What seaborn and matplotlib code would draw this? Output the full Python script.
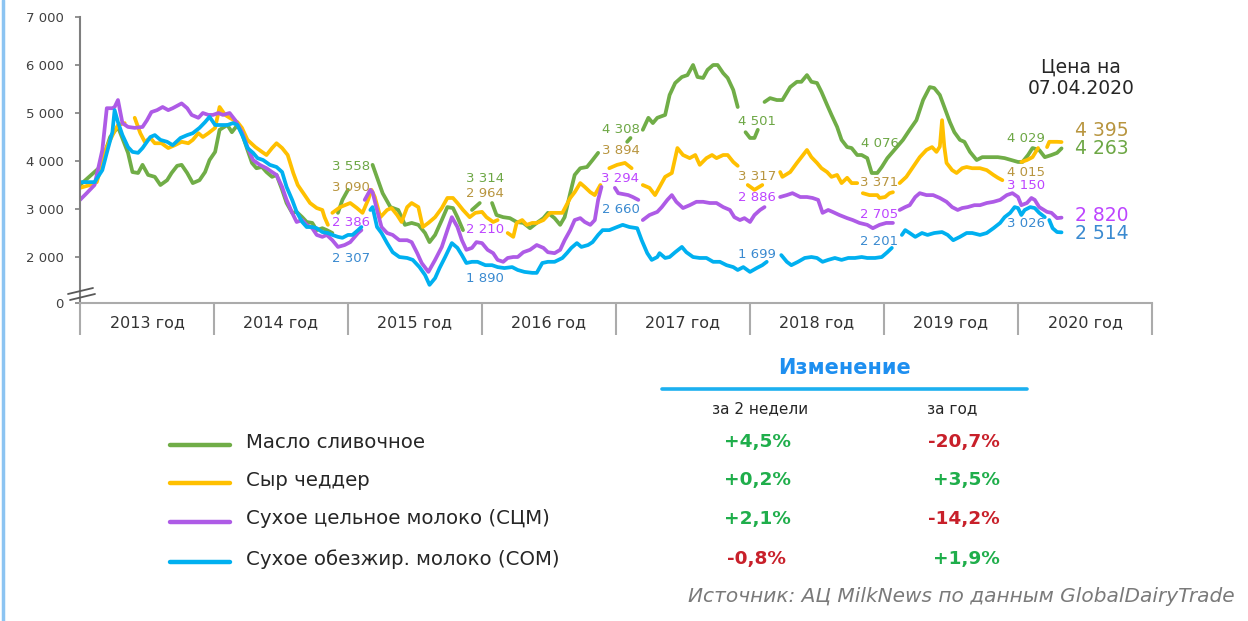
import numpy as np
import pandas as pd
import matplotlib
matplotlib.use("Agg")
import matplotlib.pyplot as plt
from matplotlib.lines import Line2D
import seaborn as sns

# ---------------- data: (months since Jan 2013, USD/t); None = break in the line
butter = [
    (0.0, 3500), (1.8, 3875), (2.7, 4500), (3.4, 4710), (4.3, 4170), (4.7, 3770), (5.2, 3750), (5.6, 3920),
    (6.1, 3710), (6.7, 3670), (7.2, 3500), (7.8, 3600), (8.2, 3750), (8.7, 3900), (9.1, 3920), (9.6, 3750),
    (10.1, 3540), (10.7, 3600), (11.2, 3770), (11.6, 4020), (12.1, 4190), (12.5, 4650), (13.2, 4750), (13.6, 4600),
    (14.1, 4750), (14.5, 4580), (15.0, 4230), (15.4, 3960), (15.8, 3850), (16.3, 3875), (16.7, 3770), (17.2, 3670),
    (17.6, 3710), (18.1, 3400), (18.5, 3125), (19.0, 2920), (19.4, 2940), (19.9, 2830), (20.3, 2730), (20.8, 2710),
    (21.2, 2560), (21.7, 2600), (22.1, 2560), (22.6, 2500),
    None,
    (23.1, 2920), (23.5, 3190), (24.0, 3400),
    None,
    (26.2, 3920), (27.1, 3330), (27.8, 3040), (28.5, 2980), (29.1, 2670), (29.7, 2710), (30.3, 2670), (30.9, 2500),
    (31.3, 2310), (31.8, 2460), (32.4, 2770), (32.9, 3040), (33.4, 3020), (33.8, 2830), (34.3, 2560),
    None,
    (35.1, 2980), (35.8, 3125),
    None,
    (36.9, 3125), (37.3, 2875), (37.9, 2830), (38.5, 2810), (39.1, 2730), (39.7, 2710), (40.3, 2600), (40.9, 2710),
    (41.5, 2810), (41.9, 2920), (42.5, 2810), (43.0, 2670), (43.4, 2830), (43.9, 3330), (44.3, 3710), (44.8, 3850),
    (45.4, 3875), (45.9, 4020), (46.4, 4170),
    None,
    (49.0, 4400), (49.3, 4480),
    None,
    (50.4, 4650), (50.9, 4900), (51.3, 4790), (51.7, 4900), (52.4, 4960), (52.8, 5375), (53.3, 5625), (53.9, 5750),
    (54.4, 5790), (54.9, 6000), (55.3, 5750), (55.8, 5730), (56.2, 5900), (56.7, 6000), (57.1, 6000), (57.6, 5830),
    (58.0, 5730), (58.5, 5480), (58.9, 5125),
    None,
    (59.6, 4600), (60.0, 4480), (60.4, 4480), (60.7, 4650),
    None,
    (61.3, 5230), (61.8, 5310), (62.4, 5270), (62.9, 5270), (63.6, 5540), (64.2, 5650), (64.6, 5650), (65.1, 5790),
    (65.5, 5650), (66.0, 5625), (66.4, 5440), (66.9, 5170), (67.3, 4960), (67.8, 4710), (68.2, 4440), (68.7, 4290),
    (69.1, 4270), (69.6, 4125), (70.0, 4125), (70.5, 4060), (70.9, 3750), (71.4, 3750), (71.8, 3875), (72.3, 4060),
    (73.0, 4250), (73.7, 4440), (74.3, 4650), (74.9, 4850), (75.5, 5270), (76.1, 5540), (76.5, 5520), (77.0, 5375),
    (77.4, 5125), (77.9, 4810), (78.3, 4600), (78.8, 4440), (79.2, 4400), (79.7, 4190), (80.3, 4020), (80.8, 4080),
    (81.5, 4080), (82.2, 4080), (82.8, 4060), (83.4, 4020), (84.0, 3980), (84.4, 3980), (84.9, 4125), (85.3, 4270),
    (85.9, 4230), (86.4, 4080), (87.0, 4125), (87.5, 4170), (87.9, 4263),
]

cheddar = [
    (0.0, 3440), (0.9, 3500), (1.5, 3560), (2.0, 3960), (2.4, 4290), (3.0, 4580), (3.4, 4750), (4.0, 4790),
    None,
    (4.9, 4900), (5.4, 4580), (5.8, 4400), (6.3, 4480), (6.7, 4370), (7.3, 4370), (7.9, 4270), (8.5, 4330),
    (9.1, 4400), (9.7, 4370), (10.1, 4440), (10.6, 4580), (11.0, 4500), (11.5, 4580), (12.1, 4690), (12.5, 5125),
    (13.0, 4960), (13.4, 4900), (14.1, 4810), (14.5, 4690), (15.0, 4440), (15.7, 4290), (16.3, 4190), (16.7, 4125),
    (17.2, 4270), (17.6, 4370), (18.1, 4270), (18.6, 4125), (19.1, 3750), (19.5, 3500), (20.0, 3330), (20.6, 3125),
    (21.2, 3020), (21.7, 2980), (21.9, 2830), (22.2, 2670),
    None,
    (22.6, 2920), (23.3, 3040), (24.2, 3125), (24.8, 3020), (25.3, 2920), (25.8, 3190), (26.1, 3400), (26.4, 3250),
    (26.9, 2830), (27.5, 2980), (27.9, 3020), (28.4, 2875), (28.8, 2730), (29.3, 3040), (29.7, 3125), (30.3, 3040),
    (30.7, 2625), (31.2, 2710), (31.8, 2830), (32.4, 3020), (32.9, 3230), (33.4, 3230), (33.8, 3125), (34.3, 2980),
    (34.9, 2830), (35.4, 2920), (36.0, 2940), (36.4, 2830), (37.0, 2730), (37.4, 2770),
    None,
    (38.3, 2500), (38.8, 2420), (39.1, 2710), (39.6, 2770), (40.0, 2670), (40.5, 2710), (40.9, 2710), (41.5, 2770),
    (42.1, 2920), (42.7, 2920), (43.2, 2920), (43.9, 3230), (44.3, 3350), (44.8, 3540), (45.2, 3460), (45.7, 3350),
    (46.1, 3290), (46.6, 3500),
    None,
    (47.4, 3850), (48.1, 3920), (48.8, 3960), (49.4, 3850),
    None,
    (50.4, 3500), (51.0, 3440), (51.5, 3290), (51.9, 3460), (52.4, 3670), (53.0, 3750), (53.5, 4270), (54.0, 4125),
    (54.6, 4060), (55.1, 4125), (55.5, 3920), (56.1, 4060), (56.6, 4125), (57.0, 4060), (57.6, 4125), (58.0, 4125),
    (58.5, 3980), (58.9, 3900),
    None,
    (59.8, 3500), (60.4, 3400), (61.1, 3500),
    None,
    (62.7, 3770), (62.9, 3670), (63.6, 3770), (64.2, 3960), (64.6, 4080), (65.1, 4230), (65.5, 4080), (66.0, 3960),
    (66.4, 3850), (66.9, 3770), (67.3, 3670), (67.8, 3710), (68.2, 3540), (68.7, 3650), (69.1, 3540), (69.6, 3540),
    None,
    (70.1, 3330), (70.7, 3290), (71.4, 3290), (71.6, 3230), (72.1, 3250), (72.5, 3330), (72.8, 3350),
    None,
    (73.4, 3540), (74.0, 3670), (74.6, 3875), (75.2, 4080), (75.8, 4230), (76.3, 4290), (76.7, 4190), (77.0, 4300),
    (77.2, 4850), (77.4, 4300), (77.6, 3960), (78.1, 3810), (78.5, 3750), (79.0, 3850), (79.4, 3875), (79.9, 3850),
    (80.6, 3850), (81.2, 3810), (81.8, 3710), (82.2, 3650), (82.6, 3600),
    None,
    (84.3, 3980), (84.8, 4020), (85.3, 4080), (85.8, 4270),
    None,
    (86.6, 4290), (86.8, 4400), (87.5, 4400), (87.9, 4395),
]

wmp = [
    (0.0, 3190), (0.6, 3330), (1.3, 3500), (2.0, 4230), (2.4, 5100), (2.9, 5100), (3.1, 5125), (3.4, 5270),
    (3.8, 4790), (4.3, 4710), (4.9, 4690), (5.6, 4710), (6.0, 4850), (6.4, 5020), (6.9, 5060), (7.4, 5125),
    (7.9, 5060), (8.3, 5100), (9.1, 5200), (9.6, 5100), (10.0, 4960), (10.6, 4900), (11.0, 5000), (11.5, 4960),
    (11.9, 4960), (12.4, 5000), (12.8, 4960), (13.4, 5000), (13.9, 4850), (14.5, 4600), (15.0, 4290), (15.5, 4020),
    (16.1, 3920), (16.7, 3850), (17.2, 3770), (17.6, 3710), (18.1, 3460), (18.5, 3190), (19.0, 2920), (19.4, 2730),
    (19.9, 2770), (20.3, 2670), (20.8, 2600), (21.2, 2460), (21.7, 2420), (22.1, 2460), (22.6, 2350), (23.1, 2210),
    (23.7, 2250), (24.2, 2310), (24.9, 2500), (25.2, 2560),
    None,
    (25.5, 3190), (26.0, 3400), (26.2, 3350), (26.6, 2980), (27.0, 2625), (27.5, 2500), (28.0, 2460), (28.6, 2350),
    (29.3, 2350), (29.7, 2310), (30.2, 2080), (30.6, 1875), (31.2, 1690), (31.8, 1940), (32.4, 2210), (32.9, 2560),
    (33.3, 2830), (33.8, 2625), (34.2, 2350), (34.6, 2150), (35.1, 2190), (35.5, 2310), (36.0, 2290), (36.5, 2150),
    (37.0, 2080), (37.4, 1940), (37.9, 1900), (38.3, 1980), (38.8, 2000), (39.2, 2000), (39.7, 2100), (40.3, 2150),
    (40.9, 2250), (41.5, 2190), (41.9, 2100), (42.5, 2080), (43.0, 2150), (43.4, 2350), (43.9, 2560), (44.3, 2770),
    (44.8, 2810), (45.2, 2730), (45.7, 2670), (46.1, 2770), (46.4, 3190), (46.7, 3460),
    None,
    (47.9, 3440), (48.2, 3330), (49.1, 3290), (49.5, 3250), (50.0, 3190),
    None,
    (50.4, 2770), (51.0, 2875), (51.7, 2940), (52.1, 3040), (52.6, 3190), (53.0, 3290), (53.4, 3150), (54.0, 3020),
    (54.6, 3080), (55.2, 3150), (55.8, 3150), (56.4, 3125), (57.0, 3125), (57.6, 3040), (58.2, 2980), (58.6, 2830),
    (59.1, 2770), (59.5, 2810), (60.0, 2730), (60.4, 2875), (60.9, 2980), (61.3, 3040),
    None,
    (62.7, 3250), (63.3, 3290), (63.8, 3330), (64.5, 3250), (65.1, 3250), (65.6, 3230), (66.1, 3190), (66.5, 2920),
    (67.0, 2980), (67.4, 2940), (68.0, 2875), (68.7, 2810), (69.2, 2770), (69.8, 2710), (70.5, 2670), (71.0, 2600),
    (71.6, 2670), (72.2, 2710), (72.8, 2710),
    None,
    (73.4, 2980), (73.9, 3040), (74.3, 3080), (74.8, 3250), (75.2, 3330), (75.8, 3290), (76.4, 3290), (77.0, 3230),
    (77.6, 3150), (78.1, 3040), (78.6, 2980), (79.0, 3020), (79.5, 3040), (80.1, 3080), (80.6, 3080), (81.2, 3125),
    (81.8, 3150), (82.4, 3190), (83.0, 3290), (83.5, 3330), (84.0, 3250), (84.3, 3080), (84.8, 3125), (85.2, 3230),
    (85.5, 3190), (85.9, 3040), (86.6, 2940), (87.0, 2920), (87.5, 2810), (87.9, 2820),
]

smp = [
    (0.0, 3560), (0.7, 3560), (1.3, 3560), (2.0, 3810), (2.4, 4170), (2.9, 4600), (3.1, 5060), (3.4, 4810),
    (3.8, 4540), (4.3, 4290), (4.7, 4190), (5.2, 4170), (5.6, 4270), (6.3, 4500), (6.7, 4540), (7.2, 4440),
    (7.8, 4400), (8.3, 4330), (9.0, 4480), (9.6, 4540), (10.1, 4580), (10.7, 4690), (11.2, 4810), (11.6, 4920),
    (12.1, 4750), (12.5, 4750), (13.2, 4750), (13.7, 4790), (14.1, 4750), (14.6, 4500), (15.0, 4270), (15.5, 4170),
    (15.9, 4060), (16.4, 4020), (17.0, 3920), (17.6, 3875), (18.1, 3770), (18.5, 3460), (19.0, 3190), (19.4, 2940),
    (19.9, 2730), (20.3, 2625), (20.8, 2625), (21.2, 2600), (21.7, 2520), (22.2, 2500), (22.6, 2460), (23.1, 2420),
    (23.5, 2400), (24.0, 2460), (24.4, 2460), (24.9, 2560), (25.2, 2625),
    None,
    (26.0, 2980), (26.2, 3040), (26.6, 2625), (27.0, 2500), (27.5, 2290), (28.0, 2100), (28.6, 2000), (29.3, 1980),
    (29.8, 1940), (30.4, 1790), (30.9, 1625), (31.3, 1420), (31.8, 1560), (32.2, 1770), (32.7, 2000), (33.3, 2290),
    (33.8, 2190), (34.2, 2040), (34.6, 1875), (35.1, 1900), (35.6, 1900), (36.3, 1830), (36.9, 1830), (37.4, 1790),
    (38.0, 1770), (38.7, 1790), (39.2, 1730), (39.8, 1690), (40.5, 1670), (40.9, 1670), (41.4, 1875), (41.9, 1900),
    (42.5, 1900), (43.2, 1980), (43.6, 2080), (44.0, 2190), (44.5, 2290), (44.9, 2210), (45.5, 2250), (45.9, 2310),
    (46.4, 2460), (46.8, 2560), (47.4, 2560), (48.1, 2625), (48.6, 2670), (49.2, 2625), (49.9, 2600), (50.3, 2350),
    (50.8, 2080), (51.2, 1940), (51.7, 2000), (51.9, 2080), (52.4, 1980), (52.8, 2000), (53.3, 2100), (53.9, 2210),
    (54.3, 2100), (54.9, 2000), (55.5, 1980), (56.1, 1980), (56.7, 1900), (57.3, 1900), (57.9, 1830), (58.5, 1790),
    (58.9, 1730), (59.4, 1790), (60.0, 1690), (60.6, 1770), (61.1, 1830), (61.5, 1900),
    None,
    (62.8, 2040), (63.3, 1900), (63.7, 1830), (64.3, 1900), (64.9, 1980), (65.5, 2000), (66.0, 1980), (66.5, 1900),
    (67.0, 1940), (67.6, 1980), (68.2, 1940), (68.8, 1980), (69.4, 1980), (70.0, 2000), (70.5, 1980), (71.2, 1980),
    (71.8, 2000), (72.3, 2100), (72.7, 2190),
    None,
    (73.6, 2460), (73.9, 2560), (74.3, 2500), (74.8, 2420), (75.4, 2500), (75.9, 2460), (76.5, 2500), (77.2, 2520),
    (77.7, 2460), (78.2, 2350), (78.8, 2420), (79.4, 2500), (79.9, 2500), (80.6, 2460), (81.2, 2500), (81.8, 2600),
    (82.4, 2710), (82.8, 2830), (83.3, 2920), (83.7, 3040), (84.0, 3020), (84.3, 2875), (84.6, 2980), (85.1, 3040),
    (85.5, 3020), (85.9, 2920), (86.4, 2830),
    None,
    (86.8, 2770), (87.1, 2600), (87.5, 2520), (87.9, 2514),
]

products = ["Масло сливочное", "Сыр чеддер", "Сухое цельное молоко (СЦМ)", "Сухое обезжир. молоко (СОМ)"]
years = ["2013 год", "2014 год", "2015 год", "2016 год", "2017 год", "2018 год", "2019 год", "2020 год"]

# year-start values printed on the chart (2015 ... 2020)
butter_start = [3558, 3314, 4308, 4501, 4076, 4029]
cheddar_start = [3090, 2964, 3894, 3317, 3371, 4015]
wmp_start = [2386, 2210, 3294, 2886, 2705, 3150]
smp_start = [2307, 1890, 2660, 1699, 2201, 3026]
current = [4263, 4395, 2820, 2514]
change_2w = ["+4,5%", "+0,2%", "+2,1%", "-0,8%"]
change_1y = ["-20,7%", "+3,5%", "-14,2%", "+1,9%"]

# ---------------- styles / layout
line_colors = ["#70AD47", "#FFC000", "#AE5BE6", "#00B0F0"]
text_colors = ["#6DA745", "#B8953F", "#BD45FF", "#3A8AD0"]
label_months = [24.3, 36.3, 48.4, 60.6, 71.6, 84.7]
label_y = [
    [3896, 3646, 4646, 4833, 4375, 4479],
    [3438, 3313, 4229, 3667, 3542, 3771],
    [2729, 2563, 3646, 3250, 2896, 3500],
    [1979, 1542, 3000, 2042, 2333, 2688],
]
final_y = [4262, 4640, 2866, 2490]

sns.set_style("white")
plt.rcParams["font.family"] = ["DejaVu Sans"]

W, H = 1248, 621
def fx(x):
    return x / W
def fy(y):
    return 1 - y / H

fig = plt.figure(figsize=(12.48, 6.21), dpi=100)
fig.patch.set_facecolor("white")
ax = fig.add_axes([fx(80), fy(303), (1152 - 80) / W, (303 - 17) / H])

rows = []
for name, pts in zip(products, [butter, cheddar, wmp, smp]):
    seg = 0
    for p in pts:
        if p is None:
            seg += 1
            continue
        rows.append((name, seg, p[0], p[1]))
df = pd.DataFrame(rows, columns=["product", "seg", "month", "price"])

sns.lineplot(data=df, x="month", y="price", hue="product", units="seg", estimator=None,
             sort=False, palette=dict(zip(products, line_colors)), linewidth=2.7,
             legend=False, ax=ax)

ax.set_xlim(0, 96)
ax.set_ylim(1042, 7000)
ax.set_xlabel("")
ax.set_ylabel("")

def fmt(v):
    return f"{v:,}".replace(",", " ")

yt = [1042, 2000, 3000, 4000, 5000, 6000, 7000]
ax.set_yticks(yt, ["0"] + [fmt(v) for v in yt[1:]])
ax.tick_params(axis="y", length=3.6, width=1.2, color="#7f7f7f", labelsize=9.5,
               labelcolor="#404040", pad=8, left=True)

ax.set_xticks(list(range(0, 97, 12)))
ax.set_xticklabels([])
ax.tick_params(axis="x", which="major", length=23, width=1.5, color="#ababab",
               direction="out", bottom=True)
ax.set_xticks([6 + 12 * i for i in range(8)], years, minor=True)
ax.tick_params(axis="x", which="minor", length=0, pad=9, labelsize=11.5, labelcolor="#333333")

for s in ["top", "right"]:
    ax.spines[s].set_visible(False)
ax.spines["left"].set_color("#7f7f7f")
ax.spines["left"].set_linewidth(1.5)
ax.spines["bottom"].set_color("#ababab")
ax.spines["bottom"].set_linewidth(1.5)
ax.grid(False)

# axis break marks
for (x0, y0, x1, y1) in [(68, 294, 93, 288), (70, 300, 95, 294)]:
    fig.add_artist(Line2D([fx(x0), fx(x1)], [fy(y0), fy(y1)], color="#595959", lw=1.3))

# year-start value labels
starts = [butter_start, cheddar_start, wmp_start, smp_start]
for i in range(4):
    for j, m in enumerate(label_months):
        ax.text(m, label_y[i][j], fmt(starts[i][j]), color=text_colors[i], fontsize=9.5,
                ha="center", va="center")
    ax.text(91.5, final_y[i], fmt(current[i]), color=text_colors[i], fontsize=13.5,
            ha="center", va="center")

fig.text(fx(1081), fy(78), "Цена на\n07.04.2020", ha="center", va="center",
         fontsize=13.5, color="#262626", linespacing=1.15)

# left border
fig.add_artist(Line2D([fx(3), fx(3)], [0, 1], color="#8CC4F2", lw=2.5))

# ---------------- lower table / legend
fig.text(fx(845), fy(368), "Изменение", ha="center", va="center", fontsize=15,
         fontweight="bold", color="#1E8FF0")
fig.add_artist(Line2D([fx(662), fx(1027)], [fy(389), fy(389)], color="#1CB0F0", lw=2.6))
fig.text(fx(760), fy(409), "за 2 недели", ha="center", va="center", fontsize=11, color="#262626")
fig.text(fx(952), fy(409), "за год", ha="center", va="center", fontsize=11, color="#262626")

row_y = [442, 480, 519, 559]
green_txt, red_txt = "#1FAE4B", "#C8202A"
for i in range(4):
    y = row_y[i]
    fig.add_artist(Line2D([fx(170), fx(230)], [fy(y + 3), fy(y + 3)], color=line_colors[i], lw=3.2))
    fig.text(fx(246), fy(y), products[i], ha="left", va="center", fontsize=14.2, color="#262626")
    c1 = green_txt if change_2w[i].startswith("+") else red_txt
    c2 = green_txt if change_1y[i].startswith("+") else red_txt
    fig.text(fx(757), fy(y), change_2w[i], ha="center", va="center", fontsize=13.3,
             fontweight="bold", color=c1)
    fig.text(fx(1000), fy(y), change_1y[i], ha="right", va="center", fontsize=13.3,
             fontweight="bold", color=c2)

fig.text(fx(1235), fy(597), "Источник: АЦ MilkNews по данным GlobalDairyTrade", ha="right",
         va="center", fontsize=14.5, style="italic", color="#7a7a7a")

fig.savefig("out.png", dpi=100, facecolor="white")
